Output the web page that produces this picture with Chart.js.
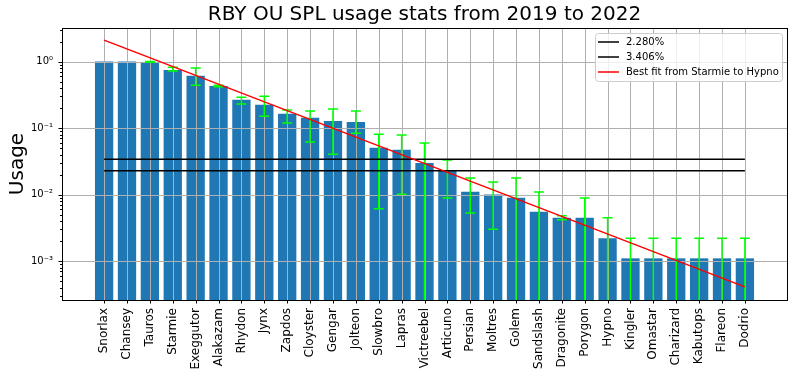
<!DOCTYPE html>
<html>
<head>
<meta charset="utf-8">
<script src="https://cdn.jsdelivr.net/npm/chart.js@4"></script>
<style>
  html, body { margin: 0; padding: 0; background: #fff; }
</style>
</head>
<body>
<canvas id="usageChart" width="794" height="376"></canvas>
<script>
// Data
const pokemon = ['Snorlax', 'Chansey', 'Tauros', 'Starmie', 'Exeggutor', 'Alakazam', 'Rhydon', 'Jynx',
  'Zapdos', 'Cloyster', 'Gengar', 'Jolteon', 'Slowbro', 'Lapras', 'Victreebel', 'Articuno', 'Persian',
  'Moltres', 'Golem', 'Sandslash', 'Dragonite', 'Porygon', 'Hypno', 'Kingler', 'Omastar', 'Charizard',
  'Kabutops', 'Flareon', 'Dodrio'];
const usage = [1.0, 1.0, 0.99, 0.75, 0.61, 0.43, 0.266, 0.224, 0.164, 0.143, 0.128, 0.124, 0.0506, 0.0472,
  0.0298, 0.0228, 0.0110, 0.0100, 0.0090, 0.0055, 0.0045, 0.0045, 0.0022, 0.0011, 0.0011, 0.0011, 0.0011,
  0.0011, 0.0011];
// error bar bounds (0 = goes off the bottom of the log axis)
const errLow = [1.0, 1.0, 0.975, 0.72, 0.44, 0.42, 0.23, 0.151, 0.119, 0.0617, 0.0406, 0.084, 0.0061, 0.0101,
  0, 0.0089, 0.0053, 0.0030, 0, 0, 0.0042, 0, 0, 0, 0, 0, 0, 0, 0];
const errHigh = [1.0, 1.0, 1.0, 0.82, 0.80, 0.44, 0.29, 0.30, 0.187, 0.18, 0.193, 0.18, 0.081, 0.0785,
  0.0595, 0.033, 0.0178, 0.0155, 0.0178, 0.0109, 0.0048, 0.0089, 0.0045, 0.0022, 0.0022, 0.0022, 0.0022,
  0.0022, 0.0022];
const cutoffs = [0.02280, 0.03406];
const cutoffLabels = ['2.280%', '3.406%'];
const fitEnds = [2.10, 0.00041]; // best fit value at Snorlax and at Dodrio
const yMajorTicks = [1e-3, 1e-2, 1e-1, 1];
const yTickLabels = ['10⁻³', '10⁻²', '10⁻¹', '10⁰'];
const chartTitle = 'RBY OU SPL usage stats from 2019 to 2022';

Chart.defaults.font.family = "'DejaVu Sans', sans-serif";
Chart.defaults.color = '#000';

const lastIdx = pokemon.length - 1;

// grid, error bars, ticks, frame, title and legend drawn matplotlib style
const overlay = {
    id: 'overlay',
    afterDatasetDraw(chart, args) {
        if (args.index !== 0) return;
        const ctx = chart.ctx;
        const area = chart.chartArea;
        const x = chart.scales.x, y = chart.scales.y;
        ctx.save();
        // grid goes above the bars
        ctx.strokeStyle = '#b0b0b0';
        ctx.lineWidth = 1;
        ctx.beginPath();
        pokemon.forEach((p, i) => {
            const px = Math.round(x.getPixelForValue(i)) + 0.5;
            ctx.moveTo(px, area.top);
            ctx.lineTo(px, area.bottom);
        });
        yMajorTicks.forEach(v => {
            const py = Math.round(y.getPixelForValue(v)) + 0.5;
            ctx.moveTo(area.left, py);
            ctx.lineTo(area.right, py);
        });
        ctx.stroke();
        // error bars
        ctx.strokeStyle = '#00ff00';
        ctx.lineWidth = 1.5;
        usage.forEach((u, i) => {
            if (errLow[i] === errHigh[i]) return;
            const px = x.getPixelForValue(i);
            const top = y.getPixelForValue(errHigh[i]);
            const bot = errLow[i] > 0 ? y.getPixelForValue(errLow[i]) : area.bottom;
            ctx.beginPath();
            ctx.moveTo(px, top);
            ctx.lineTo(px, bot);
            ctx.moveTo(px - 5, top);
            ctx.lineTo(px + 5, top);
            if (errLow[i] > 0) {
                ctx.moveTo(px - 5, bot);
                ctx.lineTo(px + 5, bot);
            }
            ctx.stroke();
        });
        ctx.restore();
    },
    afterDraw(chart) {
        const ctx = chart.ctx;
        const area = chart.chartArea;
        const x = chart.scales.x, y = chart.scales.y;
        ctx.save();
        // title centred over the axes
        ctx.fillStyle = '#000';
        ctx.font = "20px 'DejaVu Sans', sans-serif";
        ctx.textAlign = 'center';
        ctx.textBaseline = 'middle';
        ctx.fillText(chartTitle, (area.left + area.right) / 2, 15);

        ctx.strokeStyle = '#000';
        ctx.lineWidth = 1;
        ctx.beginPath();
        // x ticks
        pokemon.forEach((p, i) => {
            const px = Math.round(x.getPixelForValue(i)) + 0.5;
            ctx.moveTo(px, area.bottom);
            ctx.lineTo(px, area.bottom + 3.5);
        });
        // y major and minor ticks
        for (let e = -4; e <= 0; e++) {
            for (let m = 1; m <= 9; m++) {
                const v = m * Math.pow(10, e);
                if (v < y.min || v > y.max) continue;
                const py = Math.round(y.getPixelForValue(v)) + 0.5;
                ctx.moveTo(area.left, py);
                ctx.lineTo(area.left - (m === 1 ? 3.5 : 2), py);
            }
        }
        ctx.stroke();
        // frame
        ctx.strokeRect(Math.round(area.left) + 0.5, Math.round(area.top) + 0.5,
            Math.round(area.right - area.left), Math.round(area.bottom - area.top));

        // legend box, upper right
        const items = chart.data.datasets.filter(d => d.type === 'line');
        const boxW = 187, boxH = 48;
        const bx = area.right - 5 - boxW, by = area.top + 5;
        ctx.fillStyle = 'rgba(255,255,255,0.8)';
        ctx.strokeStyle = '#cccccc';
        ctx.beginPath();
        ctx.roundRect(bx + 0.5, by + 0.5, boxW, boxH, 3);
        ctx.fill();
        ctx.stroke();
        ctx.font = "10px 'DejaVu Sans', sans-serif";
        ctx.textBaseline = 'middle';
        ctx.textAlign = 'left';
        items.forEach((d, i) => {
            const ly = by + 9 + i * 15;
            ctx.strokeStyle = d.borderColor;
            ctx.lineWidth = 1.5;
            ctx.beginPath();
            ctx.moveTo(bx + 3, ly);
            ctx.lineTo(bx + 24, ly);
            ctx.stroke();
            ctx.fillStyle = '#000';
            ctx.fillText(d.label, bx + 31, ly);
        });
        ctx.restore();
    }
};

const ctx = document.getElementById('usageChart').getContext('2d');
const usageChart = new Chart(ctx, {
    type: 'bar',
    data: {
        datasets: [
            {
                type: 'bar',
                label: 'Usage',
                data: usage.map((u, i) => ({ x: i, y: u })),
                backgroundColor: '#1f77b4',
                barPercentage: 0.8,
                categoryPercentage: 1.0,
                order: 2
            },
            {
                type: 'line',
                label: cutoffLabels[0],
                data: [{ x: 0, y: cutoffs[0] }, { x: lastIdx, y: cutoffs[0] }],
                borderColor: '#000000',
                borderWidth: 1.5,
                pointRadius: 0,
                order: 1
            },
            {
                type: 'line',
                label: cutoffLabels[1],
                data: [{ x: 0, y: cutoffs[1] }, { x: lastIdx, y: cutoffs[1] }],
                borderColor: '#000000',
                borderWidth: 1.5,
                pointRadius: 0,
                order: 1
            },
            {
                type: 'line',
                label: 'Best fit from Starmie to Hypno',
                data: [{ x: 0, y: fitEnds[0] }, { x: lastIdx, y: fitEnds[1] }],
                borderColor: '#ff0000',
                borderWidth: 1.5,
                pointRadius: 0,
                order: 0
            }
        ]
    },
    options: {
        responsive: false,
        animation: false,
        devicePixelRatio: 1,
        layout: { padding: { top: 28, right: 7 } },
        plugins: {
            legend: { display: false },
            tooltip: { enabled: false },
            title: { display: false }
        },
        scales: {
            x: {
                type: 'linear',
                offset: false,
                min: -1.84,
                max: lastIdx + 1.84,
                afterBuildTicks: s => { s.ticks = pokemon.map((p, i) => ({ value: i })); },
                afterFit: s => { s.height = 76; },
                ticks: {
                    autoSkip: false,
                    minRotation: 90,
                    maxRotation: 90,
                    padding: 8,
                    font: { size: 12 },
                    callback: v => pokemon[v]
                },
                grid: { drawOnChartArea: false, drawTicks: false },
                border: { display: false }
            },
            y: {
                type: 'logarithmic',
                min: 2.6e-4,
                max: 3.2,
                afterBuildTicks: s => { s.ticks = yMajorTicks.map(v => ({ value: v })); },
                afterFit: s => { s.width = 62; },
                ticks: {
                    padding: 9,
                    font: { size: 10 },
                    callback: (v, i) => yTickLabels[i]
                },
                title: {
                    display: true,
                    text: 'Usage',
                    font: { size: 20 },
                    padding: { top: 6, bottom: 0 }
                },
                grid: { drawOnChartArea: false, drawTicks: false },
                border: { display: false }
            }
        }
    },
    plugins: [overlay]
});
</script>
</body>
</html>
